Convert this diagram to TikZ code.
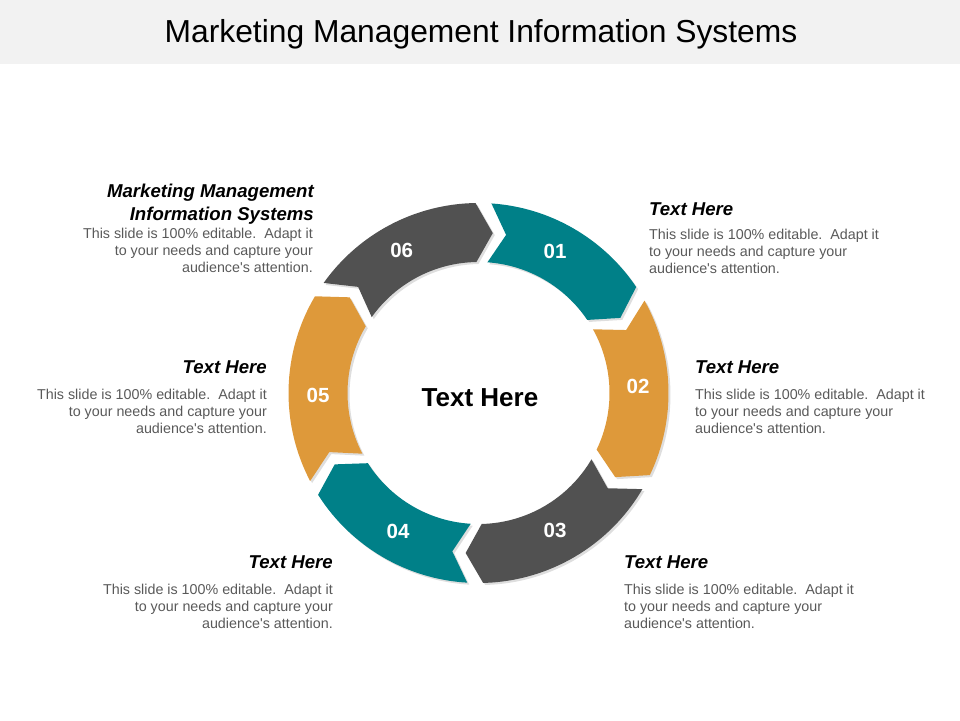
\documentclass[tikz,border=0pt]{standalone}
\usepackage{fontspec}
\setmainfont{Liberation Sans}
\definecolor{tealc}{RGB}{0,128,136}
\definecolor{orngc}{RGB}{222,153,58}
\definecolor{dgrayc}{RGB}{81,81,81}
\definecolor{bodyc}{RGB}{89,89,89}
\definecolor{bandc}{RGB}{242,242,242}
\newcommand\ringprep[2]{%
  \pgfmathsetmacro\ao{#1-2.4}%
  \pgfmathsetmacro\bo{#2+2.4}%
  \pgfmathsetmacro\tp{\bo-6}%
  \pgfmathsetmacro\nt{\ao-6}}
\newcommand\ringseg{%
  (\ao:190) arc[start angle=\ao, end angle=\bo, radius=190] -- (\tp:160.5) -- (\bo:131)
  arc[start angle=\bo, end angle=\ao, radius=131] -- (\nt:160.5) -- cycle}
\newcommand\txtblock[4]{%
  \node[bodytxt, anchor=base #2] (#1a) at (#3,#4) {This slide is 100\% editable.\ \ Adapt it};
  \node[bodytxt, anchor=base #2] (#1b) at (#3,#4+17) {to your needs and capture your};
  \node[bodytxt, anchor=base #2] (#1c) at (#3,#4+34) {audience\textquotesingle s attention.};}
\begin{document}
\begin{tikzpicture}[x=1pt,y=-1pt,
  bodytxt/.style={inner sep=0pt, text=bodyc, font=\fontsize{14.3}{17}\selectfont},
  headtxt/.style={inner sep=0pt, text=black, font=\fontsize{18.6}{22}\selectfont\bfseries\itshape},
  numtxt/.style={inner sep=0pt, text=white, font=\fontsize{20.5}{24}\selectfont\bfseries},
]
\useasboundingbox (0,0) rectangle (960,720);
\fill[bandc] (0,0) rectangle (960,64);
\node[inner sep=0pt, anchor=base, font=\fontsize{31.8}{38}\selectfont] (title) at (481,42) {Marketing Management Information Systems};

% shadows
\begin{scope}[shift={(480.5,395)}, yscale=-1]
  \foreach \js/\je in {147/88.5, 88.5/31.5, 31.5/-28, -28/-91, 269/210, 210/147}{
    \ringprep{\js}{\je}
    \fill[black, opacity=0.13] \ringseg;
  }
\end{scope}
% segments
\begin{scope}[shift={(478.5,393)}, yscale=-1]
  \foreach \js/\je/\col in {147/88.5/dgrayc, 88.5/31.5/tealc, 31.5/-28/orngc, -28/-91/dgrayc, 269/210/tealc, 210/147/orngc}{
    \ringprep{\js}{\je}
    \fill[\col] \ringseg;
  }
\end{scope}

% numbers
\node[numtxt] (n6) at (401.7,250) {06};
\node[numtxt] (n1) at (555,251.7) {01};
\node[numtxt] (n2) at (638,386.7) {02};
\node[numtxt] (n3) at (555,530) {03};
\node[numtxt] (n4) at (398,531.7) {04};
\node[numtxt] (n5) at (318,395) {05};

\node[inner sep=0pt, font=\fontsize{26}{30}\selectfont\bfseries] (ctr) at (480,397.3) {Text Here};

% top-left
\node[headtxt, anchor=base east] (h6a) at (314,197) {Marketing Management};
\node[headtxt, anchor=base east] (h6b) at (314,220) {Information Systems};
\txtblock{t6}{east}{313}{238.5}
% top-right
\node[headtxt, anchor=base west] (h1) at (649,215) {Text Here};
\txtblock{t1}{west}{649}{239}
% right
\node[headtxt, anchor=base west] (h2) at (695,373) {Text Here};
\txtblock{t2}{west}{695}{399}
% left
\node[headtxt, anchor=base east] (h5) at (267,373) {Text Here};
\txtblock{t5}{east}{267}{399}
% bottom-right
\node[headtxt, anchor=base west] (h3) at (624,568) {Text Here};
\txtblock{t3}{west}{624}{594}
% bottom-left
\node[headtxt, anchor=base east] (h4) at (333,568) {Text Here};
\txtblock{t4}{east}{333}{594}
\end{tikzpicture}
\end{document}
